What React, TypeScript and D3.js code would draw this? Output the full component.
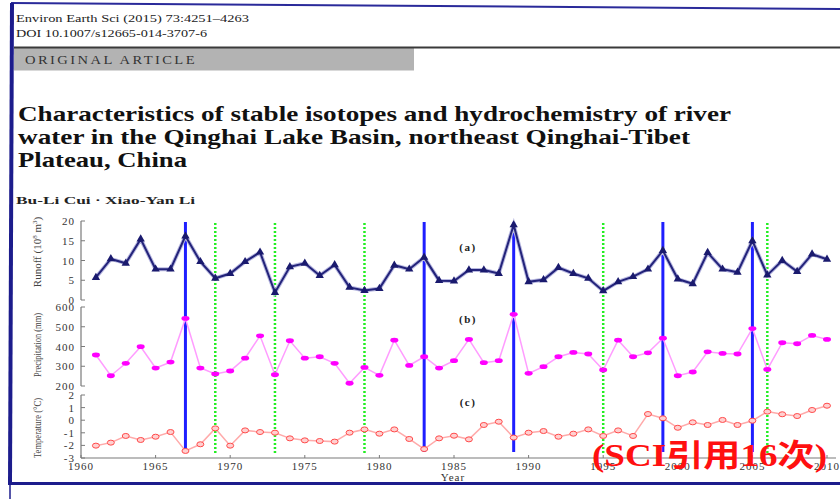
import React from "react";
import * as d3 from "d3";

// Annual series for 1961–2010
const years: number[] = d3.range(1961, 2011);
const runoff: number[] = [
  5.7, 10.4, 9.3, 15.4, 7.8, 7.8, 16.2, 9.7, 5.5, 6.7,
  9.7, 12.1, 1.9, 8.4, 9.3, 6.2, 8.9, 3.2, 2.4, 2.9,
  8.8, 7.8, 10.8, 4.9, 4.8, 7.6, 7.6, 6.7, 19.0, 4.6,
  5.1, 8.2, 6.7, 5.5, 2.3, 4.6, 5.9, 7.8, 12.5, 5.3,
  4.1, 12.0, 7.8, 7.0, 15.0, 6.3, 10.0, 7.2, 11.6, 10.3,
];
const precipitation: number[] = [
  357, 252, 315, 399, 291, 321, 542, 291, 261, 276,
  341, 454, 257, 429, 341, 348, 315, 214, 294, 254,
  432, 304, 348, 291, 328, 436, 318, 328, 563, 264,
  298, 348, 370, 362, 281, 432, 348, 368, 442, 252,
  271, 373, 365, 362, 491, 284, 419, 414, 456, 436,
];
const temperature: number[] = [
  -2.02, -1.78, -1.25, -1.57, -1.31, -0.94, -2.44, -1.91, -0.65, -2.02,
  -0.81, -0.94, -0.99, -1.44, -1.6, -1.65, -1.7, -0.99, -0.73, -1.07,
  -0.73, -1.49, -2.29, -1.44, -1.23, -1.52, -0.38, -0.12, -1.38, -0.99,
  -0.86, -1.31, -1.07, -0.73, -1.25, -0.81, -1.25, 0.49, 0.15, -0.6,
  -0.17, -0.38, 0.02, -0.38, -0.04, 0.68, 0.47, 0.33, 0.81, 1.15,
];

// Reference years marked across all panels
const wetYears: number[] = [1967, 1983, 1989, 1999, 2005];
const dryYears: number[] = [1969, 1973, 1979, 1995, 2006];

const xTicks: number[] = [1960, 1965, 1970, 1975, 1980, 1985, 1990, 1995, 2000, 2005, 2010];
const runoffTicks: number[] = [0, 5, 10, 15, 20];
const precipTicks: number[] = [200, 300, 400, 500, 600];
const tempTicks: number[] = [-3, -2, -1, 0, 1, 2];

const serif = "'Liberation Serif', 'DejaVu Serif', serif";

export default function App() {
  const x = d3.scaleLinear().domain([1960, 2010]).range([81, 827]);
  const yA = d3.scaleLinear().domain([0, 20]).range([300, 221]);
  const yB = d3.scaleLinear().domain([200, 600]).range([386, 307]);
  const yC = d3.scaleLinear().domain([-3, 2]).range([458, 395]);

  const lineA = d3.line<number>().x((_, i) => x(years[i])).y((d) => yA(d));
  const lineB = d3.line<number>().x((_, i) => x(years[i])).y((d) => yB(d));
  const lineC = d3.line<number>().x((_, i) => x(years[i])).y((d) => yC(d));
  const tri = d3.symbol().type(d3.symbolTriangle).size(30)() as string;

  const axisColor = "#7a7a7a";
  const tickText = { fontFamily: serif, fontSize: 11, fill: "#333", letterSpacing: 1 } as const;

  const yAxis = (
    scale: d3.ScaleLinear<number, number>,
    ticks: number[],
    key: string
  ) => {
    const [r0, r1] = scale.range();
    return (
      <g key={key}>
        <line x1={81} x2={81} y1={r0} y2={r1} stroke={axisColor} strokeWidth={1.2} />
        {ticks.map((t) => (
          <g key={t}>
            <line x1={81} x2={85} y1={scale(t)} y2={scale(t)} stroke={axisColor} strokeWidth={1} />
            <text x={75} y={scale(t) + 4} textAnchor="end" {...tickText}>
              {t}
            </text>
          </g>
        ))}
      </g>
    );
  };

  return (
    <svg
      width={840}
      height={499}
      style={{ position: "absolute", left: 0, top: 0, background: "#fff" }}
    >
      {/* page frame */}
      <line x1={11} y1={3} x2={840} y2={9} stroke="#2a2a9a" strokeWidth={2} />
      <line x1={12} y1={3} x2={10} y2={484} stroke="#1c1c8c" strokeWidth={4} />
      <line x1={10} y1={484} x2={10} y2={499} stroke="#1c1c8c" strokeWidth={1.5} />
      <line x1={8} y1={483.5} x2={840} y2={483.5} stroke="#1c1c8c" strokeWidth={3} />

      {/* article header */}
      <text x={16} y={22} fontFamily={serif} fontSize={11} fill="#222" textLength={233} lengthAdjust="spacingAndGlyphs">
        Environ Earth Sci (2015) 73:4251–4263
      </text>
      <text x={16} y={37} fontFamily={serif} fontSize={11} fill="#222" textLength={191} lengthAdjust="spacingAndGlyphs">
        DOI 10.1007/s12665-014-3707-6
      </text>
      <rect x={14} y={47.5} width={400} height={23} fill="#b3b3b3" />
      <line x1={14} x2={840} y1={47.5} y2={47.5} stroke="#3a3a3a" strokeWidth={2} />
      <text x={25} y={64} fontFamily={serif} fontSize={12} fill="#333" letterSpacing={2} textLength={172} lengthAdjust="spacingAndGlyphs">
        ORIGINAL ARTICLE
      </text>
      <g fontFamily={serif} fontSize={21} fontWeight="bold" fill="#111">
        <text x={18} y={121} textLength={713} lengthAdjust="spacingAndGlyphs">
          Characteristics of stable isotopes and hydrochemistry of river
        </text>
        <text x={18} y={144} textLength={672} lengthAdjust="spacingAndGlyphs">
          water in the Qinghai Lake Basin, northeast Qinghai-Tibet
        </text>
        <text x={18} y={167} textLength={169} lengthAdjust="spacingAndGlyphs">
          Plateau, China
        </text>
      </g>
      <text x={16} y={204} fontFamily={serif} fontSize={11} fontWeight="bold" fill="#222" textLength={179} lengthAdjust="spacingAndGlyphs">
        Bu-Li Cui · Xiao-Yan Li
      </text>

      {/* axes */}
      {yAxis(yA, runoffTicks, "a")}
      {yAxis(yB, precipTicks, "b")}
      {yAxis(yC, tempTicks, "c")}
      <line x1={81} x2={836} y1={458} y2={458} stroke={axisColor} strokeWidth={1.2} />
      {xTicks.map((t) => (
        <g key={t}>
          <line x1={x(t)} x2={x(t)} y1={458} y2={455} stroke={axisColor} strokeWidth={1} />
          <text x={x(t)} y={470} textAnchor="middle" {...tickText}>
            {t}
          </text>
        </g>
      ))}
      <text x={453} y={481} textAnchor="middle" {...tickText}>
        Year
      </text>

      {/* axis titles */}
      <g fontFamily={serif} fontSize={11} fill="#444">
        <text transform="translate(41,252) rotate(-90)" textAnchor="middle">
          Runoff (10<tspan dy={-4} fontSize={7}>8</tspan>
          <tspan dy={4}> m</tspan>
          <tspan dy={-4} fontSize={7}>3</tspan>
          <tspan dy={4}>)</tspan>
        </text>
        <text transform="translate(41,345) rotate(-90)" textAnchor="middle" textLength={64} lengthAdjust="spacingAndGlyphs">
          Precipitation (mm)
        </text>
        <text transform="translate(41,428) rotate(-90)" textAnchor="middle" textLength={60} lengthAdjust="spacingAndGlyphs">
          Temperature (°C)
        </text>
      </g>

      {/* panel letters */}
      <g fontFamily={serif} fontSize={11} fontWeight="bold" fill="#222" letterSpacing={1.5}>
        <text x={468} y={251} textAnchor="middle">(a)</text>
        <text x={468} y={323} textAnchor="middle">(b)</text>
        <text x={468} y={406} textAnchor="middle">(c)</text>
      </g>

      {/* marked years */}
      {wetYears.map((yr) => (
        <line key={`w${yr}`} x1={x(yr)} x2={x(yr)} y1={222} y2={452} stroke="#1f1fff" strokeWidth={3} />
      ))}
      {dryYears.map((yr) => (
        <line key={`d${yr}`} x1={x(yr)} x2={x(yr)} y1={223} y2={453} stroke="#22ee22" strokeWidth={2.5} strokeDasharray="2 2" />
      ))}

      {/* (a) runoff */}
      <path d={lineA(runoff) ?? ""} fill="none" stroke="#b8b8e0" strokeWidth={4} />
      <path d={lineA(runoff) ?? ""} fill="none" stroke="#23237a" strokeWidth={2} />
      {runoff.map((v, i) => (
        <path key={i} d={tri} transform={`translate(${x(years[i])},${yA(v)})`} fill="#1a1a6e" />
      ))}

      {/* (b) precipitation */}
      <path d={lineB(precipitation) ?? ""} fill="none" stroke="#ff9cff" strokeWidth={1.5} />
      {precipitation.map((v, i) => (
        <ellipse key={i} cx={x(years[i])} cy={yB(v)} rx={4} ry={2.4} fill="#ff00ff" />
      ))}

      {/* (c) temperature */}
      <path d={lineC(temperature) ?? ""} fill="none" stroke="#ffaaaa" strokeWidth={1.5} />
      {temperature.map((v, i) => (
        <ellipse key={i} cx={x(years[i])} cy={yC(v)} rx={3.5} ry={2.5} fill="#ffd0d0" stroke="#ff4a4a" strokeWidth={1} />
      ))}

      {/* citation note */}
      <text
        x={592}
        y={466}
        fontFamily="'Liberation Serif', 'Noto Sans CJK SC', serif"
        fontSize={31}
        fontWeight="bold"
        fill="#ff1010"
        textLength={235}
        lengthAdjust="spacingAndGlyphs"
      >
        (SCI引用16次)
      </text>
    </svg>
  );
}
